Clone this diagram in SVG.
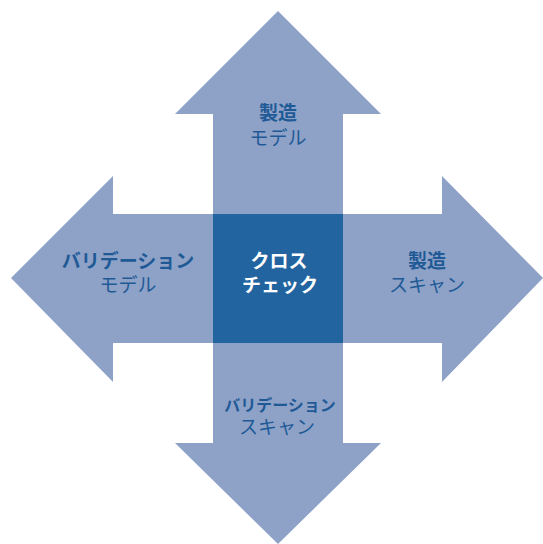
<svg xmlns="http://www.w3.org/2000/svg" width="543" height="544" viewBox="0 0 543 544">
<style>
.arrow{fill:#8EA2C8}
.center{fill:#2264A0}
text{font-family:"Noto Sans CJK JP","Noto Sans",sans-serif;text-anchor:middle;font-size:19px;fill:#1F5A96}
.b{font-weight:bold}
.w{fill:#ffffff}
</style>
<rect width="543" height="544" fill="#ffffff"/>
<g id="arrow-up">
<polygon class="arrow" points="278,11 381,114 343,114 343,214 213,214 213,114 175,114"/>
<text x="278" y="120" class="b">製造</text>
<text x="278" y="145">モデル</text>
</g>
<g id="arrow-left">
<polygon class="arrow" points="11,278 113,176 113,214 213,214 213,343 113,343 113,382"/>
<text x="128" y="268" class="b">バリデーション</text>
<text x="128" y="292">モデル</text>
</g>
<g id="arrow-right">
<polygon class="arrow" points="543,278 442,176 442,214 343,214 343,343 442,343 442,382"/>
<text x="427" y="268" class="b">製造</text>
<text x="427" y="292">スキャン</text>
</g>
<g id="arrow-down">
<polygon class="arrow" points="278,544 381,443 343,443 343,343 213,343 213,443 175,443"/>
<text x="280" y="411" class="b" style="font-size:16px">バリデーション</text>
<text x="277" y="434">スキャン</text>
</g>
<g id="connectors"></g>
<g id="cross-check">
<rect class="center" x="213" y="214" width="130" height="129"/>
<text x="279" y="268" class="b w">クロス</text>
<text x="280" y="292" class="b w">チェック</text>
</g>
</svg>
